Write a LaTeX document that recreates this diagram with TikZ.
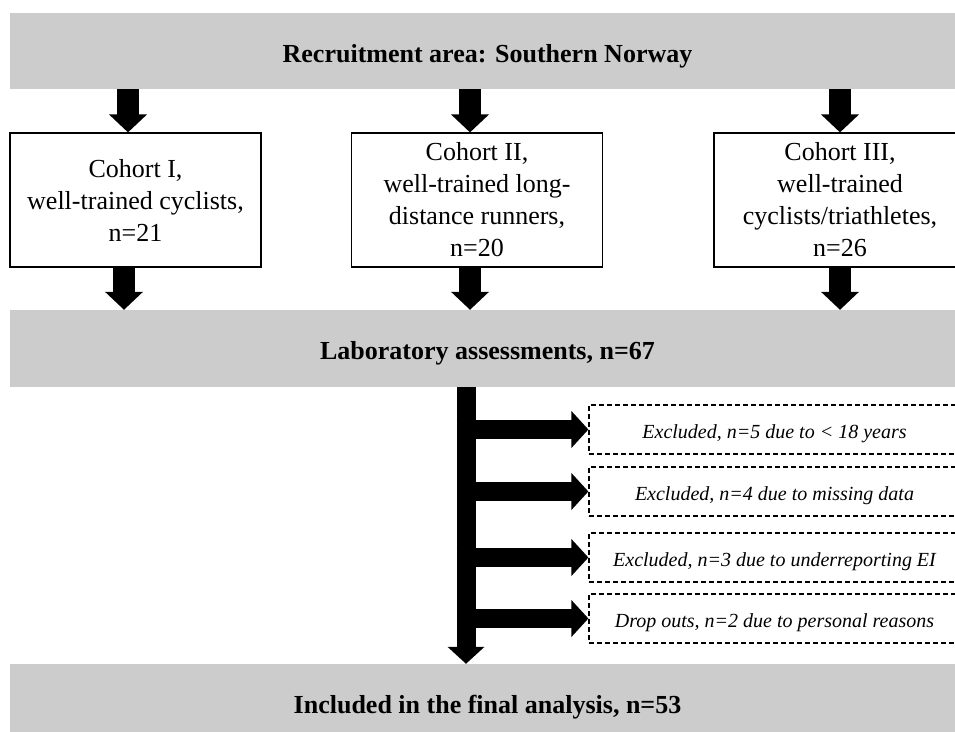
\documentclass[tikz,border=0pt]{standalone}
\usepackage{fontspec}
\setmainfont{Liberation Serif}
\usetikzlibrary{arrows.meta}
\definecolor{bandgray}{HTML}{CCCCCC}
\tikzset{
  band/.style={fill=bandgray, minimum width=955pt, minimum height=77pt, inner sep=0pt,
    text height=22pt, text depth=0pt, font=\fontsize{26}{32}\selectfont\bfseries},
  cohort/.style={draw, line width=1.2pt, minimum width=251pt, minimum height=134pt,
    inner sep=0pt, align=center, font=\fontsize{26}{32}\selectfont},
  excl/.style={draw, line width=1.2pt, dash pattern=on 5pt off 3pt, minimum width=371pt,
    minimum height=49pt, inner sep=0pt, text height=17pt, text depth=0pt,
    font=\fontsize{20}{24}\selectfont\itshape},
  fatarrow/.style={line width=22pt, -{Triangle[length=18pt,width=37pt]}},
  thinfat/.style={line width=19pt, -{Triangle[length=17pt,width=36pt]}}
}

\begin{document}
\begin{tikzpicture}[x=1pt,y=-1pt]
  \useasboundingbox (0,0) rectangle (955,731);
  \clip (0,0) rectangle (955,731);
  \node[band, minimum height=76pt] (recruit) at (487.5,51) {Recruitment area: Southern Norway};
  \node[cohort] (c1) at (135.5,200) {Cohort I,\\ well-trained cyclists,\\ n=21};
  \node[cohort] (c2) at (477,200) {Cohort II,\\ well-trained long-\\ distance runners,\\ n=20};
  \node[cohort, minimum width=252pt] (c3) at (840,200) {Cohort III,\\ well-trained\\ cyclists/triathletes,\\ n=26};
  \node[band] (lab) at (487.5,348.5) {Laboratory assessments, n=67};
  \node[excl] (ex1) at (774.5,429.5) {Excluded, n=5 due to < 18 years};
  \node[excl] (ex2) at (774.5,491.5) {Excluded, n=4 due to missing data};
  \node[excl] (ex3) at (774.5,557.5) {Excluded, n=3 due to underreporting EI};
  \node[excl] (ex4) at (774.5,618.5) {Drop outs, n=2 due to personal reasons};
  \node[band] (final) at (487.5,702.5) {Included in the final analysis, n=53};
  \coordinate (trunk) at (466,387);

  \path[fatarrow]
  ([xshift=-7.5pt]c1.north |- recruit.south) edge ([xshift=-7.5pt]c1.north)
  ([xshift=-7pt]c2.north |- recruit.south) edge ([xshift=-7pt]c2.north)
  (c3.north |- recruit.south) edge (c3.north)
  ([xshift=-11.5pt]c1.south) edge ([xshift=-11.5pt]c1.south |- lab.north)
  ([xshift=-7pt]c2.south) edge ([xshift=-7pt]c2.south |- lab.north)
  (c3.south) edge (c3.south |- lab.north);
  \path[thinfat]
  (trunk) edge (trunk |- final.north)
  ([xshift=-9.5pt]trunk |- ex1.west) edge (ex1.west)
  ([xshift=-9.5pt]trunk |- ex2.west) edge (ex2.west)
  ([xshift=-9.5pt]trunk |- ex3.west) edge (ex3.west)
  ([xshift=-9.5pt]trunk |- ex4.west) edge (ex4.west);
\end{tikzpicture}
\end{document}
